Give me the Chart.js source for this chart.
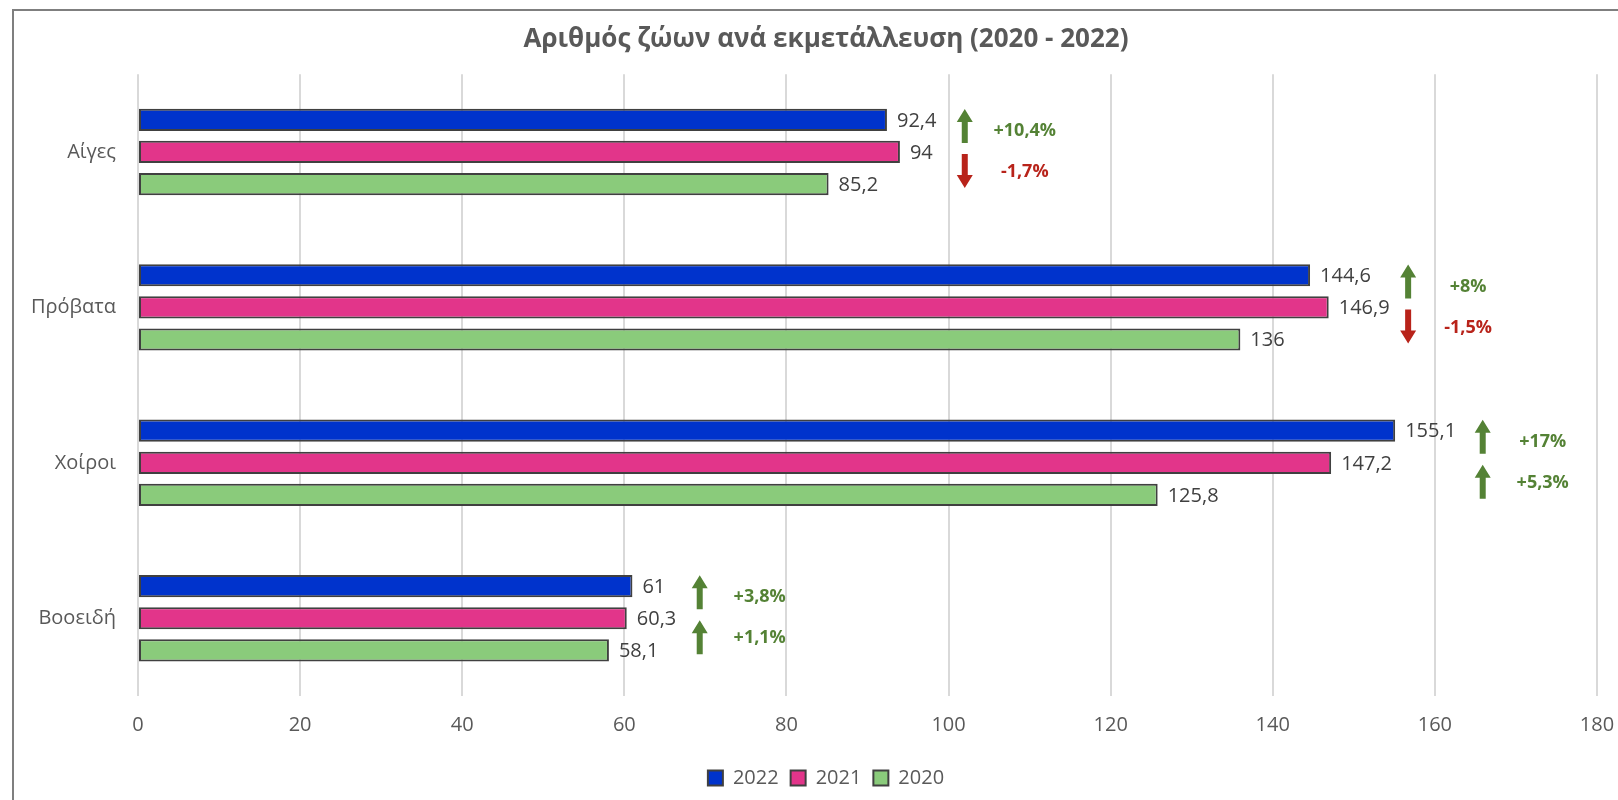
<!DOCTYPE html>
<html>
<head>
<meta charset="utf-8">
<script src="https://cdn.jsdelivr.net/npm/chart.js@4.4.1/dist/chart.umd.min.js"></script>
<style>
  html, body { margin: 0; padding: 0; background: #fff; overflow: hidden; }
  #frame {
    position: absolute; left: 12px; top: 9px;
    width: 1640px; height: 800px;
    border-left: 2px solid #7f7f7f; border-top: 2px solid #7f7f7f;
  }
  #canvas { display: block; }
</style>
</head>
<body>
<div id="frame">
  <canvas id="canvas" width="1640" height="789" style="width:1640px;height:789px"></canvas>
</div>
<script>
var categories = ["Αίγες", "Πρόβατα", "Χοίροι", "Βοοειδή"];
var values2022 = [92.4, 144.6, 155.1, 61];
var values2021 = [94, 146.9, 147.2, 60.3];
var values2020 = [85.2, 136, 125.8, 58.1];

// percentage notes next to each group (upper and lower arrow)
var changeUpper = ["+10,4%", "+8%", "+17%", "+3,8%"];
var changeLower = ["-1,7%", "-1,5%", "+5,3%", "+1,1%"];
// where the arrows sit, in axis units
var arrowAt = [102, 156.7, 165.9, 69.3];

var FONT = "'Open Sans', sans-serif";
var TXT = "#595959";
var UP = "#548235";
var DOWN = "#B8231A";

var valueLabels = {
  id: "valueLabels",
  afterDatasetsDraw: function (chart) {
    var ctx = chart.ctx;
    ctx.save();
    ctx.font = "20px " + FONT;
    ctx.fillStyle = "#404040";
    ctx.textAlign = "left";
    ctx.textBaseline = "middle";
    chart.data.datasets.forEach(function (ds, di) {
      chart.getDatasetMeta(di).data.forEach(function (bar, i) {
        var txt = String(ds.data[i]).replace(".", ",");
        ctx.fillText(txt, bar.x + 10, bar.y + 1);
      });
    });
    ctx.restore();
  }
};

function drawArrow(ctx, x, cy, up, color) {
  var len = 34, headW = 16, headL = 13, shaftW = 6;
  var top = cy - len / 2, bot = cy + len / 2;
  ctx.fillStyle = color;
  ctx.beginPath();
  if (up) {
    ctx.moveTo(x, top);
    ctx.lineTo(x + headW / 2, top + headL);
    ctx.lineTo(x + shaftW / 2, top + headL);
    ctx.lineTo(x + shaftW / 2, bot);
    ctx.lineTo(x - shaftW / 2, bot);
    ctx.lineTo(x - shaftW / 2, top + headL);
    ctx.lineTo(x - headW / 2, top + headL);
  } else {
    ctx.moveTo(x, bot);
    ctx.lineTo(x + headW / 2, bot - headL);
    ctx.lineTo(x + shaftW / 2, bot - headL);
    ctx.lineTo(x + shaftW / 2, top);
    ctx.lineTo(x - shaftW / 2, top);
    ctx.lineTo(x - shaftW / 2, bot - headL);
    ctx.lineTo(x - headW / 2, bot - headL);
  }
  ctx.closePath();
  ctx.fill();
}

var changeNotes = {
  id: "changeNotes",
  afterDatasetsDraw: function (chart) {
    var ctx = chart.ctx;
    var xs = chart.scales.x, ys = chart.scales.y;
    ctx.save();
    ctx.font = "bold 18px " + FONT;
    ctx.textAlign = "center";
    ctx.textBaseline = "middle";
    categories.forEach(function (c, i) {
      var x = xs.getPixelForValue(arrowAt[i]);
      var y = ys.getPixelForValue(i);
      [[changeUpper[i], -26, -21], [changeLower[i], 19, 20]].forEach(function (n) {
        var up = n[0].charAt(0) !== "-";
        var col = up ? UP : DOWN;
        drawArrow(ctx, x, y + n[1], up, col);
        ctx.fillStyle = col;
        ctx.fillText(n[0], x + 60, y + n[2]);
      });
    });
    ctx.restore();
  }
};

window.onload = function () {
  var ctx = document.getElementById("canvas").getContext("2d");
  new Chart(ctx, {
    type: "bar",
    data: {
      labels: categories,
      datasets: [
        { label: "2022", data: values2022, backgroundColor: "#0033CC" },
        { label: "2021", data: values2021, backgroundColor: "#E2358A" },
        { label: "2020", data: values2020, backgroundColor: "#8ACB7B" }
      ].map(function (d) {
        d.borderColor = "#404040";
        d.borderWidth = 2;
        d.borderSkipped = false;
        d.categoryPercentage = 0.62;
        d.barPercentage = 0.69;
        return d;
      })
    },
    options: {
      indexAxis: "y",
      responsive: false,
      animation: false,
      layout: { padding: { top: 0, left: 0, right: 16, bottom: 2 } },
      scales: {
        x: {
          min: 0, max: 180,
          ticks: { stepSize: 20, color: TXT, font: { family: FONT, size: 20 }, padding: 17 },
          grid: { color: "#D9D9D9", lineWidth: 2, drawTicks: false },
          border: { display: false },
          afterFit: function (s) { s.height = 60; }
        },
        y: {
          ticks: { color: TXT, font: { family: FONT, size: 20 }, padding: 22 },
          grid: { display: false, drawTicks: false },
          border: { display: false },
          afterFit: function (s) { s.width = 124; }
        },
        // empty strip on the right so title and legend centre like the original
        yRight: {
          type: "category",
          position: "right",
          ticks: { display: false },
          grid: { display: false, drawTicks: false },
          border: { display: false },
          afterFit: function (s) { s.width = 41; }
        }
      },
      plugins: {
        title: {
          display: true,
          text: "Αριθμός ζώων ανά εκμετάλλευση (2020 - 2022)",
          color: TXT,
          font: { family: FONT, size: 26, weight: "bold" },
          padding: { top: 13, bottom: 19 }
        },
        legend: {
          position: "bottom",
          labels: {
            color: TXT,
            font: { family: FONT, size: 20 },
            boxWidth: 15, boxHeight: 15, padding: 12
          }
        },
        tooltip: { enabled: false }
      }
    },
    plugins: [valueLabels, changeNotes]
  });
};
</script>
</body>
</html>
